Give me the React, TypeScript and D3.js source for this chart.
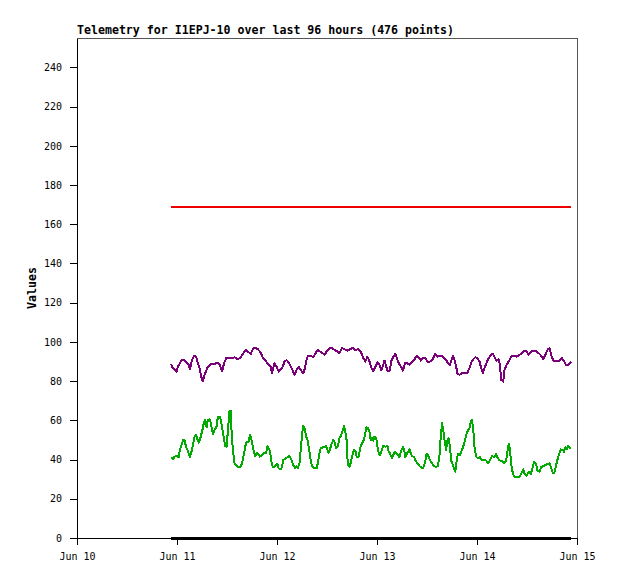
import React, { useEffect, useRef } from "react";
import * as d3 from "d3";

// hours since Jun 10 00:00 and the reading at that moment
const purpleHours = [
  22.6, 23.0, 23.4, 23.9, 24.2, 24.7, 25.0, 25.7, 26.2, 26.8, 27.1, 27.6, 28.1, 28.6, 29.0, 29.4,
  29.8, 30.2, 30.5, 31.0, 31.4, 31.9, 32.4, 33.0, 33.8, 34.3, 34.8, 35.3, 35.8, 36.6, 37.2, 37.8,
  38.6, 39.3, 39.9, 40.6, 41.0, 41.7, 42.3, 42.8, 43.4, 44.1, 44.6, 45.2, 45.7, 46.5, 46.8, 47.0,
  47.4, 47.9, 48.4, 48.9, 49.4, 49.8, 50.3, 50.8, 51.3, 51.8, 52.2, 52.7, 53.2, 53.7, 54.2, 54.5,
  55.0, 55.4, 56.1, 56.7, 57.2, 57.7, 58.3, 59.0, 59.4, 59.9, 60.6, 61.2, 61.8, 62.5, 63.0, 63.6,
  64.2, 64.9, 65.5, 66.2, 66.8, 67.4, 68.1, 68.7, 69.2, 69.7, 70.2, 70.6, 71.1, 71.6, 72.1, 72.6,
  73.0, 73.5, 73.8, 74.2, 74.6, 75.1, 75.4, 75.9, 76.4, 76.9, 77.4, 77.8, 78.2, 78.8, 79.3, 79.8,
  80.2, 80.9, 81.5, 82.0, 82.5, 83.0, 83.6, 84.1, 84.7, 85.4, 86.0, 86.5, 87.0, 87.6, 88.1, 88.6,
  89.0, 89.5, 90.0, 90.3, 90.6, 91.0, 91.3, 91.8, 92.4, 93.0, 93.7, 94.2, 94.6, 95.1, 95.6, 96.1,
  96.6, 97.0, 97.4, 97.8, 98.3, 98.8, 99.3, 99.8, 100.2, 100.7, 101.2, 101.5, 101.8, 102.3, 102.6,
  103.1, 103.6, 104.2, 104.9, 105.5, 106.2, 106.8, 107.4, 107.9, 108.4, 109.0, 109.7, 110.3, 111.0,
  111.4, 111.9, 112.4, 113.0, 113.4, 113.8, 114.3, 114.8, 115.4, 115.9, 116.4, 116.9, 117.4, 117.8,
  118.2, 118.6,
];
const purpleValues = [
  88.8, 86.6, 86.0, 84.9, 87.4, 89.1, 90.5, 90.8, 89.5, 88.3, 86.0, 90.8, 92.9, 92.5, 89.1, 86.6,
  82.3, 79.8, 82.3, 85.4, 87.4, 88.3, 88.8, 88.8, 89.5, 88.3, 84.9, 89.1, 91.7, 91.7, 91.7, 92.2,
  91.2, 92.2, 94.2, 95.9, 95.1, 93.9, 96.8, 96.9, 96.3, 94.6, 91.7, 90.5, 89.1, 87.4, 84.0, 85.7,
  89.1, 87.4, 84.9, 86.0, 87.4, 90.0, 90.8, 89.5, 87.4, 85.4, 83.2, 85.7, 87.4, 85.7, 84.0, 84.9,
  90.0, 92.9, 92.9, 92.2, 93.9, 95.9, 95.1, 94.2, 93.4, 95.1, 96.9, 96.8, 95.9, 95.1, 94.2, 96.8,
  96.3, 95.6, 96.3, 96.9, 95.9, 96.3, 95.1, 91.7, 90.0, 92.5, 90.0, 87.1, 84.9, 87.4, 89.5, 88.3,
  85.4, 88.3, 90.5, 87.4, 84.9, 85.4, 90.0, 92.5, 93.9, 90.8, 88.3, 87.4, 85.4, 89.5, 89.1, 88.3,
  89.5, 90.8, 92.9, 92.2, 90.5, 91.7, 91.7, 90.0, 90.0, 91.2, 93.9, 92.5, 92.9, 92.9, 91.7, 90.8,
  89.1, 88.3, 91.7, 92.9, 90.8, 87.4, 84.0, 83.2, 84.0, 84.0, 84.4, 86.6, 89.5, 91.2, 92.2, 91.7,
  90.0, 86.6, 84.0, 86.6, 89.5, 91.7, 93.4, 93.9, 92.2, 90.5, 91.2, 88.3, 80.6, 79.8, 85.7,
  88.3, 90.0, 92.5, 92.9, 92.5, 93.4, 94.2, 95.6, 95.1, 93.4, 95.1, 95.6, 95.1, 93.9,
  92.9, 91.2, 93.4, 96.3, 96.8, 93.4, 90.5, 90.5, 90.0, 90.5, 91.7, 90.0, 88.3, 88.3,
  88.8, 90.0,
];

const greenHours = [
  22.6, 23.1, 23.4, 23.9, 24.4, 24.7, 25.0, 25.5, 25.8, 26.2, 26.6, 27.1, 27.4, 27.8, 28.2, 28.6,
  28.9, 29.2, 29.5, 29.8, 30.2, 30.5, 30.8, 31.1, 31.4, 31.8, 32.1, 32.4, 32.7, 33.0, 33.5, 33.8,
  34.3, 34.6, 35.0, 35.3, 35.6, 35.9, 36.2, 36.6, 36.9, 37.0, 37.2, 37.5, 37.8, 38.3, 38.8, 39.3,
  39.6, 40.1, 40.4, 40.7, 41.2, 41.5, 41.8, 42.2, 42.5, 42.8, 43.1, 43.4, 43.9, 44.4, 44.9, 45.4,
  45.7, 46.2, 46.5, 46.8, 47.1, 47.6, 48.1, 48.4, 48.9, 49.2, 49.5, 50.0, 50.5, 51.0, 51.4, 51.9,
  52.4, 52.7, 53.0, 53.4, 53.7, 54.0, 54.3, 54.6, 55.0, 55.3, 55.6, 55.9, 56.2, 56.6, 57.0, 57.5,
  57.8, 58.2, 58.5, 59.0, 59.4, 59.8, 60.1, 60.4, 60.7, 61.0, 61.5, 61.8, 62.2, 62.6, 63.0, 63.3,
  63.8, 64.1, 64.4, 64.7, 65.0, 65.4, 65.7, 66.2, 66.5, 66.8, 67.1, 67.6, 67.9, 68.2, 68.6, 68.9,
  69.2, 69.5, 69.8, 70.2, 70.5, 70.8, 71.1, 71.4, 71.8, 72.1, 72.4, 72.7, 73.0, 73.5, 74.0, 74.5,
  74.8, 75.1, 75.6, 75.9, 76.2, 76.6, 77.0, 77.4, 77.7, 78.2, 78.5, 78.8, 79.3, 79.8, 80.1, 80.4,
  80.9, 81.2, 81.7, 82.2, 82.6, 83.1, 83.6, 83.9, 84.2, 84.7, 85.2, 85.7, 86.2, 86.6, 87.0, 87.3,
  87.6, 87.9, 88.2, 88.6, 88.9, 89.2, 89.5, 89.8, 90.2, 90.5, 90.8, 91.1, 91.4, 91.9, 92.4, 92.9,
  93.4, 93.7, 94.2, 94.5, 94.8, 95.1, 95.4, 95.8, 96.2, 96.7, 97.2, 97.7, 98.2, 98.6, 99.1, 99.6,
  100.1, 100.6, 101.0, 101.5, 102.0, 102.5, 103.0, 103.3, 103.6, 103.9, 104.2, 104.6, 105.0, 105.7,
  106.3, 106.8, 107.1, 107.4, 107.9, 108.4, 108.9, 109.4, 109.7, 110.2, 110.5, 111.0, 111.4, 111.9,
  112.4, 112.9, 113.4, 113.7, 114.2, 114.5, 114.8, 115.1, 115.6, 116.1, 116.6, 116.9, 117.2, 117.5,
  117.8, 118.2, 118.5,
];
const greenValues = [
  41.2, 40.1, 41.5, 41.8, 41.2, 44.9, 46.9, 50.0, 50.0, 46.3, 44.6, 41.2, 43.2, 47.4, 51.7, 52.6,
  50.3, 48.6, 50.0, 52.6, 56.0, 59.4, 60.2, 56.5, 60.2, 60.5, 58.8, 55.1, 53.1, 55.1, 56.8, 61.6,
  61.6, 59.4, 54.3, 50.0, 46.9, 46.6, 54.3, 64.5, 65.0, 58.5, 50.0, 43.2, 38.1, 36.7, 36.1, 36.4,
  38.1, 43.2, 46.9, 49.1, 49.1, 52.6, 50.9, 46.6, 43.5, 41.8, 43.5, 43.2, 41.5, 42.3, 43.2, 43.2,
  46.9, 44.9, 41.5, 37.2, 36.1, 36.7, 37.8, 35.5, 35.0, 36.1, 39.8, 40.6, 41.2, 41.8, 40.1, 37.2,
  35.5, 36.7, 35.5, 38.1, 44.9, 52.6, 57.1, 56.0, 51.7, 50.3, 46.6, 42.3, 38.1, 36.1, 35.5, 35.5,
  38.1, 43.2, 45.7, 46.3, 46.3, 46.9, 44.9, 43.5, 44.9, 47.4, 50.0, 49.1, 45.7, 46.9, 50.9, 52.0,
  55.1, 57.1, 54.3, 50.0, 37.2, 36.4, 38.4, 43.2, 44.9, 44.6, 41.5, 41.5, 45.2, 47.4, 49.1, 50.3,
  53.7, 56.5, 56.0, 54.3, 49.7, 50.9, 49.7, 51.7, 50.9, 46.9, 43.2, 42.3, 44.0, 46.9, 46.6, 46.9,
  44.0, 43.2, 40.6, 42.3, 44.0, 43.5, 42.3, 41.2, 44.0, 46.3, 44.9, 41.2, 43.5, 45.2, 43.2, 41.8,
  41.2, 39.8, 38.1, 36.7, 36.1, 35.5, 39.5, 42.9, 42.3, 39.8, 38.1, 36.7, 36.1, 36.7, 42.3, 51.7,
  58.5, 55.4, 50.0, 44.9, 50.0, 50.9, 46.6, 39.5, 37.2, 35.5, 33.8, 38.9, 42.9, 42.3, 44.9, 48.0,
  52.6, 54.3, 56.0, 59.4, 60.2, 55.4, 46.6, 41.5, 40.6, 41.2, 39.5, 39.8, 39.5, 38.1, 39.5, 41.8,
  41.2, 42.9, 40.6, 39.5, 39.5, 38.1, 39.5, 44.0, 48.0, 45.7, 37.8, 33.0, 31.0, 31.0,
  31.3, 33.8, 35.0, 32.7, 31.6, 33.8, 32.7, 36.1, 38.9, 37.8, 34.4, 33.8, 36.1, 36.7,
  37.2, 37.8, 38.1, 36.4, 33.3, 33.0, 35.5, 38.1, 42.3, 45.2, 44.9, 44.0, 46.3, 45.2,
  46.9, 46.3, 45.2,
];

// flat series: level and the time span it covers
const redValue = 169;
const blackValue = 0;
const flatHours = [22.6, 118.6];

const yTicks = [0, 20, 40, 60, 80, 100, 120, 140, 160, 180, 200, 220, 240];
const title = "Telemetry for I1EPJ-10 over last 96 hours (476 points)";

const start = new Date(2024, 5, 10);
const end = new Date(2024, 5, 15);
const at = (h: number) => new Date(start.getTime() + h * 3600 * 1000);

const App: React.FC = () => {
  const svgRef = useRef<SVGSVGElement | null>(null);

  useEffect(() => {
    if (!svgRef.current) return;
    const svg = d3.select(svgRef.current);
    svg.selectAll("*").remove();

    const margin = { top: 38, right: 41, bottom: 41, left: 77 };
    const width = 618 - margin.left - margin.right;
    const height = 579 - margin.top - margin.bottom;
    const font = "'DejaVu Sans Mono', monospace";

    const x = d3.scaleTime().domain([start, end]).range([0, width]);
    const y = d3.scaleLinear().domain([0, 255]).range([height, 0]);

    const g = svg
      .append("g")
      .attr("transform", `translate(${margin.left},${margin.top})`);

    // frame
    g.append("rect")
      .attr("x", 0.5)
      .attr("y", 0.5)
      .attr("width", width)
      .attr("height", height)
      .attr("fill", "none")
      .attr("stroke", "#555")
      .attr("shape-rendering", "crispEdges");

    const xAxis = g
      .append("g")
      .attr("transform", `translate(0,${height})`)
      .call(
        d3
          .axisBottom(x)
          .ticks(d3.timeDay.every(1))
          .tickFormat(d3.timeFormat("%b %d") as any)
          .tickSize(7)
          .tickSizeOuter(0)
      );
    xAxis.select(".domain").attr("stroke", "#000");
    xAxis.selectAll("text").attr("y", 22).attr("dy", null);

    const yAxis = g
      .append("g")
      .call(d3.axisLeft(y).tickValues(yTicks).tickSize(7).tickSizeOuter(0).tickPadding(8));
    yAxis.select(".domain").attr("stroke", "#000");

    svg
      .selectAll(".tick text")
      .style("font-family", font)
      .style("font-size", "10px")
      .attr("fill", "#000");
    svg.selectAll(".tick line, .domain").attr("shape-rendering", "crispEdges");

    const line = d3
      .line<[number, number]>()
      .x((d) => x(at(d[0])))
      .y((d) => y(d[1]));

    const series = [
      { color: "#ee0000", w: 2, pts: flatHours.map((h) => [h, redValue] as [number, number]) },
      { color: "#000000", w: 3, pts: flatHours.map((h) => [h, blackValue] as [number, number]) },
      { color: "#7a007a", w: 2, pts: purpleHours.map((h, i) => [h, purpleValues[i]] as [number, number]) },
      { color: "#00aa00", w: 2, pts: greenHours.map((h, i) => [h, greenValues[i]] as [number, number]) },
    ];

    g.selectAll(".series")
      .data(series)
      .enter()
      .append("path")
      .attr("class", "series")
      .attr("d", (d) => line(d.pts))
      .attr("fill", "none")
      .attr("stroke", (d) => d.color)
      .attr("stroke-width", (d) => d.w)
      .attr("stroke-linejoin", "round")
      .attr("shape-rendering", "crispEdges");

    svg
      .append("text")
      .attr("x", margin.left)
      .attr("y", 34)
      .style("font-family", font)
      .style("font-size", "11.6px")
      .style("font-weight", "bold")
      .text(title);

    svg
      .append("text")
      .attr("transform", `translate(36,${margin.top + height / 2}) rotate(-90)`)
      .attr("text-anchor", "middle")
      .style("font-family", font)
      .style("font-size", "11.6px")
      .style("font-weight", "bold")
      .text("Values");
  }, []);

  return (
    <div style={{ position: "absolute", left: 0, top: 0 }}>
      <svg ref={svgRef} width={618} height={579} style={{ display: "block", background: "#fff" }} />
    </div>
  );
};

export default App;
